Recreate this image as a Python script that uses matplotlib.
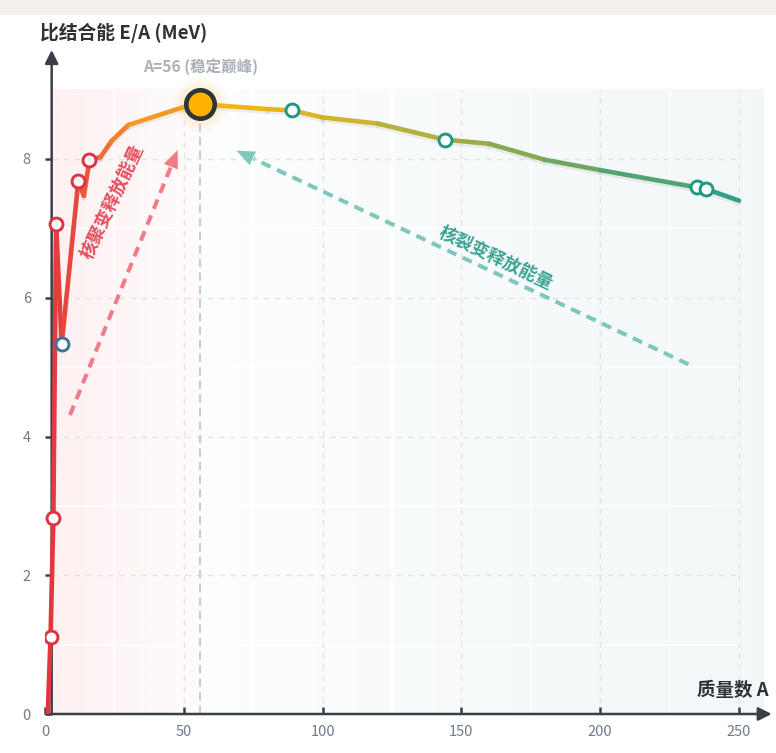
import numpy as np
import matplotlib
matplotlib.use("Agg")
import matplotlib.pyplot as plt
from matplotlib.collections import LineCollection
from matplotlib.colors import LinearSegmentedColormap
from matplotlib.patches import Rectangle, Polygon
import matplotlib.patheffects as pe

plt.rcParams['font.family'] = ['Noto Sans CJK SC', 'DejaVu Sans']

# ---------------- data ----------------
mass_number = [1, 2, 3, 4, 6, 12, 14, 16, 20, 24, 30, 50, 56, 80, 89, 100,
               120, 144, 160, 180, 200, 235, 238, 250]
binding_energy = [0.00, 1.11, 2.83, 7.07, 5.33, 7.68, 7.47, 7.98, 8.03, 8.26,
                  8.49, 8.75, 8.79, 8.72, 8.70, 8.60, 8.51, 8.28, 8.22, 7.99,
                  7.84, 7.59, 7.57, 7.40]
light_marked = [2, 3, 4, 12, 16]
lithium_marked = [6]
heavy_marked = [89, 144, 235, 238]
peak_A = 56
x_ticks = [0, 50, 100, 150, 200, 250]
y_ticks = [0, 2, 4, 6, 8]
y_label = '比结合能 E/A (MeV)'
x_label = '质量数 A'
peak_label = 'A=56 (稳定巅峰)'
fusion_label = '核聚变释放能量'
fission_label = '核裂变释放能量'

lookup = dict(zip(mass_number, binding_energy))

# ---------------- figure ----------------
W, H = 776, 753
fig = plt.figure(figsize=(W / 100, H / 100), dpi=100)
fig.patch.set_facecolor('white')
fig.add_artist(Rectangle((0, 1 - 14 / H), 1, 14 / H, transform=fig.transFigure,
                         color='#f3f0eb', zorder=0))

x0_px, y0_px = 45, 714
px_x = 2.776
px_y = 69.375
xmax, ymax = 262, 9.6
ax = fig.add_axes([x0_px / W, (H - y0_px) / H, xmax * px_x / W, ymax * px_y / H])
ax.set_xlim(0, xmax)
ax.set_ylim(0, ymax)
ax.patch.set_alpha(0)

axis_x = 2.4
axis_color = '#3a3f47'

# background gradient
ncol = 700
xs = np.linspace(axis_x, 258.6, ncol)
img = np.zeros((2, ncol, 4))
for i, xv in enumerate(xs):
    if xv < peak_A:
        t = (xv - axis_x) / (peak_A - axis_x)
        a = 0.085 * (1 - t) + 0.02 * t
        img[:, i, :3] = np.array([233, 77, 89]) / 255
    else:
        t = (xv - peak_A) / (258.6 - peak_A)
        a = 0.012 * (1 - t) + 0.068 * t
        img[:, i, :3] = np.array([60, 130, 140]) / 255
    img[:, i, 3] = a
ax.imshow(img, extent=[axis_x, 258.6, 0, 9], aspect='auto', zorder=0,
          interpolation='bilinear')

# minor grid (white, faint)
ax.vlines([25, 75, 125, 175, 225], 0, 9, color='white', lw=1.2, alpha=0.9, zorder=1)
ax.hlines([1, 3, 5, 7], axis_x, 250, color='white', lw=1.2, alpha=0.9, zorder=1)
# major grid dashed
ax.vlines([50, 100, 150, 200, 250], 0, 9, color='#e1e4e8', lw=1.0,
          linestyles=(0, (4, 4)), zorder=1)
ax.hlines([2, 4, 6, 8], axis_x, 250, color='#e1e4e8', lw=1.0,
          linestyles=(0, (4, 4)), zorder=1)

# peak vertical dashed
ax.vlines(peak_A, 0, lookup[peak_A], color='#c9cdd3', lw=1.5,
          linestyles=(0, (4, 2.5)), zorder=2)

# axes lines with arrows
for s in ax.spines.values():
    s.set_visible(False)
ax.spines['left'].set_position(('data', axis_x))
ax.annotate('', xy=(axis_x, (y0_px - 50) / px_y), xytext=(axis_x, 0),
            arrowprops=dict(arrowstyle='-|>,head_length=0.8,head_width=0.4',
                            color=axis_color, lw=1.8, shrinkA=0, shrinkB=0,
                            mutation_scale=10),
            annotation_clip=False, zorder=3)
ax.annotate('', xy=(261.8, 0), xytext=(0.6, 0),
            arrowprops=dict(arrowstyle='-|>,head_length=0.8,head_width=0.4',
                            color=axis_color, lw=1.8, shrinkA=0, shrinkB=0,
                            mutation_scale=10),
            annotation_clip=False, zorder=3)

ax.set_xticks(x_ticks)
ax.set_yticks(y_ticks)
ax.set_xticklabels([str(v) for v in x_ticks])
ax.set_yticklabels([str(v) for v in y_ticks])
ax.tick_params(axis='x', direction='in', length=5, width=1.8, color=axis_color,
               labelcolor='#6e7b8b', labelsize=10.5, pad=8)
ax.tick_params(axis='y', direction='out', length=5, width=1.8, color=axis_color,
               labelcolor='#6e7b8b', labelsize=10.5, pad=10)

# gradient line
cmap = LinearSegmentedColormap.from_list('be', [
    (0.0, '#e23340'), (0.03, '#e6443f'), (0.06, '#eb5a3a'), (0.12, '#f28a2a'),
    (0.2, '#f5a81c'), (0.26, '#f2b414'), (0.4, '#d8b52a'), (0.58, '#a8ad42'),
    (0.75, '#72a760'), (1.0, '#2e9e8a')])
pts = np.column_stack([mass_number, binding_energy])
segs = np.stack([pts[:-1], pts[1:]], axis=1)
mids = (pts[:-1, 0] + pts[1:, 0]) / 2
lc = LineCollection(segs, colors=[cmap(m / 250) for m in mids], linewidths=3.3,
                    capstyle='round', joinstyle='round', zorder=4)
lc.set_path_effects([pe.SimpleLineShadow(offset=(0, -2.0), shadow_color='black',
                                         alpha=0.06), pe.Normal()])
ax.add_collection(lc)

# markers
def mark(group, edge):
    ax.plot(group, [lookup[a] for a in group], 'o', ms=9.3, mfc='white', mec=edge,
            mew=2.1, ls='none', zorder=6)

mark(light_marked, '#e03342')
mark(lithium_marked, '#3f729b')
mark(heavy_marked, '#1f9882')

# peak marker with glow
for s_, al in [(1600, 0.04), (1200, 0.06), (900, 0.08)]:
    ax.scatter([peak_A], [lookup[peak_A]], s=s_, color='#ffc233', alpha=al,
               lw=0, zorder=5)
ax.plot([peak_A], [lookup[peak_A]], 'o', ms=20.5, mfc='#ffb300', mec='#2f343b',
        mew=3.3, zorder=7)

# annotations
ax.text(peak_A, 9.34, peak_label, ha='center', va='center', color='#a9b0b8',
        fontsize=11.2, fontweight='bold', zorder=8)


def dashed_arrow(start, tip, color, head_len=18, head_half=7.5):
    p0 = ax.transData.transform(start)
    p1 = ax.transData.transform(tip)
    d = p1 - p0
    u = d / np.hypot(*d)
    n = np.array([-u[1], u[0]])
    base = p1 - u * head_len
    inv = ax.transData.inverted()
    b = inv.transform(base - u * 1.0)
    ax.plot([start[0], b[0]], [start[1], b[1]], color=color, lw=2.9,
            ls=(0, (2.5, 1.75)), zorder=3, solid_capstyle='butt')
    tri = inv.transform(np.array([p1, base + n * head_half, base - n * head_half]))
    ax.add_patch(Polygon(tri, closed=True, color=color, lw=0, zorder=3))


dashed_arrow((9.0, 4.31), (47.8, 8.13), '#ef7c88')
dashed_arrow((231.8, 5.04), (69.0, 8.12), '#7fc6bc')

ax.text(24.3, 7.39, fusion_label, rotation=65, rotation_mode='anchor',
        ha='center', va='center', color='#e44d5d', fontsize=12.8,
        fontweight='bold', zorder=8)
ax.text(162.5, 6.57, fission_label, rotation=-25.4, rotation_mode='anchor',
        ha='center', va='center', color='#3aa394', fontsize=12.8,
        fontweight='bold', zorder=8)

# axis titles
fig.text(40 / W, 1 - 33 / H, y_label, ha='left', va='center', color='#2d3238',
         fontsize=13.5, fontweight='bold')
fig.text(769 / W, 1 - 690 / H, x_label, ha='right', va='center', color='#2d3238',
         fontsize=13.3, fontweight='bold')

fig.savefig('out.png', dpi=100)
